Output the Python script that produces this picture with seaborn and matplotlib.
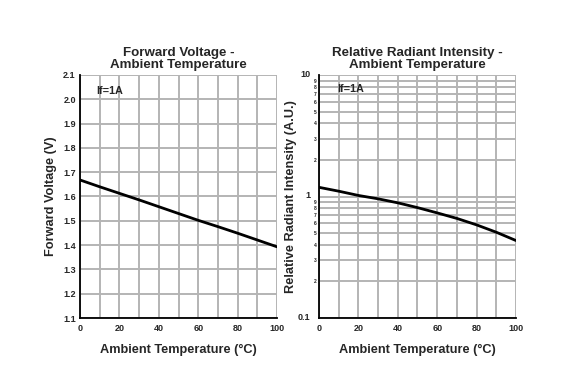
import numpy as np
import pandas as pd
import matplotlib
matplotlib.use("Agg")
import matplotlib.pyplot as plt
import matplotlib.ticker as mticker
import matplotlib.transforms as mtransforms
import seaborn as sns

temp = [0, 10, 20, 30, 40, 50, 60, 70, 80, 90, 100]
vf = [1.668, 1.640, 1.613, 1.586, 1.558, 1.530, 1.502, 1.476, 1.449, 1.421, 1.393]
intensity = [1.19, 1.106, 1.02, 0.957, 0.887, 0.81, 0.733, 0.66, 0.584, 0.508, 0.434]

sns.set_style("white")
plt.rcParams["font.family"] = ["Liberation Sans", "DejaVu Sans"]
plt.rcParams["font.weight"] = "bold"

fig = plt.figure(figsize=(5.64, 3.84), dpi=100)
ax1 = fig.add_axes([80 / 564, 1 - 318 / 384, 197 / 564, 243 / 384])
ax2 = fig.add_axes([319 / 564, 1 - 318 / 384, 197 / 564, 243 / 384])

df = pd.DataFrame({"t": temp, "vf": vf, "ir": intensity})
grid_kw = dict(color="#b4b4b4", linewidth=1.4)

for ax in (ax1, ax2):
    for s in ("top", "right"):
        ax.spines[s].set_visible(False)
    for s in ("left", "bottom"):
        ax.spines[s].set_color("black")
        ax.spines[s].set_linewidth(1.3)
    ax.set_xlim(0, 100)
    ax.set_xticks(range(0, 101, 20))
    ax.xaxis.set_minor_locator(mticker.MultipleLocator(10))
    ax.grid(True, which="both", axis="x", **grid_kw)
    ax.tick_params(axis="both", which="both", length=0, labelsize=6.5, pad=3)
    ax.tick_params(axis="x", pad=4)
    ax.set_axisbelow(True)

# left: forward voltage
sns.lineplot(data=df, x="t", y="vf", ax=ax1, color="black", linewidth=2)
ax1.set_ylim(1.1, 2.1)
ax1.set_yticks(np.round(np.arange(1.1, 2.11, 0.1), 1))
ax1.yaxis.set_major_formatter(mticker.FormatStrFormatter("%.1f"))
ax1.grid(True, which="major", axis="y", **grid_kw)
ax1.set_title("Forward Voltage -\nAmbient Temperature", fontsize=9.6,
              fontweight="bold", pad=5, linespacing=1.0)
ax1.set_xlabel("Ambient Temperature (°C)", fontsize=9.2, fontweight="bold", labelpad=8.5)
ax1.set_ylabel("Forward Voltage (V)", fontsize=9.2, fontweight="bold", labelpad=4.5)
ax1.text(15, 2.02, "If=1A", fontsize=7.8, fontweight="bold", ha="center")

# right: relative radiant intensity (log)
sns.lineplot(data=df, x="t", y="ir", ax=ax2, color="black", linewidth=2)
ax2.set_yscale("log")
ax2.set_ylim(0.1, 10)
ax2.yaxis.set_major_locator(mticker.FixedLocator([0.1, 1, 10]))
ax2.yaxis.set_major_formatter(mticker.FixedFormatter(["0.1", "1", "10"]))
minors = [m * d for d in (0.1, 1) for m in range(2, 10)]
ax2.yaxis.set_minor_locator(mticker.FixedLocator(minors))
ax2.yaxis.set_minor_formatter(mticker.FixedFormatter([str(m) for m in range(2, 10)] * 2))
ax2.tick_params(axis="y", which="minor", labelsize=3.6, pad=1.5)
ax2.tick_params(axis="y", which="major", pad=6)
shift = mtransforms.ScaledTranslation(0, 1.5 / 100, fig.dpi_scale_trans)
for lab in ax2.get_yticklabels():
    lab.set_transform(lab.get_transform() + shift)
ax2.grid(True, which="both", axis="y", **grid_kw)
ax2.set_title("Relative Radiant Intensity -\nAmbient Temperature", fontsize=9.6,
              fontweight="bold", pad=5, linespacing=1.0)
ax2.set_xlabel("Ambient Temperature (°C)", fontsize=9.2, fontweight="bold", labelpad=8.5)
ax2.set_ylabel("Relative Radiant Intensity (A.U.)", fontsize=9.2, fontweight="bold", labelpad=1)
ax2.text(16, 7.3, "If=1A", fontsize=7.8, fontweight="bold", ha="center")

fig.savefig("out.png", dpi=100)
